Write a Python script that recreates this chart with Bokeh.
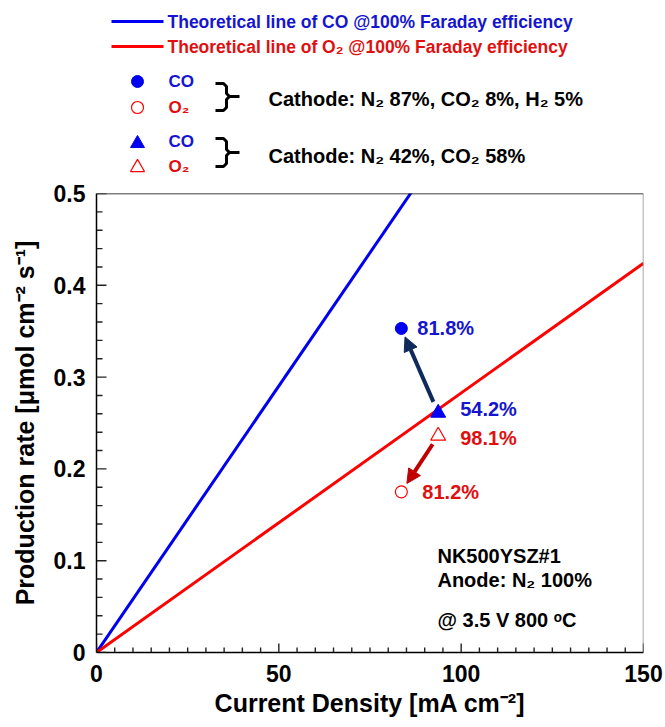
from bokeh.plotting import figure
from bokeh.layouts import column
from bokeh.models import Range1d, FixedTicker, Arrow, NormalHead, Label, Span, ColumnDataSource
from bokeh.core.properties import value
from bokeh.embed import file_html
from bokeh.resources import INLINE

FONT = "Liberation Sans"
BLUE_LINE = "#0000F0"
RED_LINE = "#FF0000"
BLUE_TXT = "#1515D0"
RED_TXT = "#E01010"
NAVY = "#102A5C"
DARKRED = "#C00000"

# ---------------- data ----------------
theo_x = [0, 150]                 # current density, mA cm-2
co_theo = [0, 0.871]              # theoretical CO @100% FE
o2_theo = [0, 0.424]              # theoretical O2 @100% FE

mix1_x = [83.6]                   # cathode N2 87%, CO2 8%, H2 5%
mix1_co = [0.353]
mix1_o2 = [0.175]
mix1_co_fe = ["81.8%"]
mix1_o2_fe = ["81.2%"]

mix2_x = [93.7]                   # cathode N2 42%, CO2 58%
mix2_co = [0.261]
mix2_o2 = [0.236]
mix2_co_fe = ["54.2%"]
mix2_o2_fe = ["98.1%"]

x_ticks = [0, 50, 100, 150]
y_ticks = [0, 0.1, 0.2, 0.3, 0.4, 0.5]
x_minor = [v for v in range(0, 151, 5) if v not in x_ticks]
y_minor = [i / 50 for i in range(0, 26) if i % 5 != 0]

X0, X1, Y0, Y1 = 0, 150, 0, 0.5
W, TOPH, MAINH = 665, 180, 547
L, R, T, B = 96, 22, 13, 75
FRAME_W = W - L - R
FRAME_H = MAINH - T - B

# ---------------- legend panel ----------------
top = figure(width=W, height=TOPH, x_range=Range1d(L, W - R), y_range=Range1d(TOPH, 0),
             output_backend="svg", toolbar_location=None,
             min_border_left=L, min_border_right=R, min_border_top=0, min_border_bottom=0)
top.axis.visible = False
top.grid.visible = False
top.outline_line_color = None

def ttext(fig, x, y, s, color, size):
    fig.text(x=[x], y=[y], text=[s], text_baseline="middle", text_align="left",
             text_font=value(FONT), text_font_style="bold", text_font_size=size,
             text_color=color)

top.line([111, 163], [21, 21], line_color=BLUE_LINE, line_width=3)
ttext(top, 167, 21, "Theoretical line of CO @100% Faraday efficiency", BLUE_TXT, "17.5px")
top.line([111, 163], [46, 46], line_color=RED_LINE, line_width=3)
ttext(top, 167, 46, "Theoretical line of O\u2082 @100% Faraday efficiency", RED_TXT, "17.5px")

top.scatter([137], [81], marker="circle", size=12, fill_color=BLUE_LINE, line_color=BLUE_LINE)
ttext(top, 168, 81, "CO", BLUE_TXT, "17px")
top.scatter([137], [107], marker="circle", size=12, fill_color=None, line_color=RED_LINE, line_width=1.2)
ttext(top, 168, 107, "O\u2082", RED_TXT, "17px")
top.scatter([137], [143], marker="triangle", size=14, fill_color=BLUE_LINE, line_color=BLUE_LINE)
ttext(top, 168, 141, "CO", BLUE_TXT, "17px")
top.scatter([137], [167], marker="triangle", size=14, fill_color=None, line_color=RED_LINE, line_width=1.2)
ttext(top, 168, 166, "O\u2082", RED_TXT, "17px")

for (ya, ym, yb) in [(83, 96, 110), (138, 152, 166)]:
    top.line([215, 223, 226, 226, 229, 239], [ya, ya, ya + 3, ym - 3, ym, ym],
             line_color="black", line_width=3)
    top.line([229, 226, 226, 223, 215], [ym, ym + 3, yb - 3, yb, yb],
             line_color="black", line_width=3)

ttext(top, 268, 98, "Cathode: N\u2082 87%, CO\u2082 8%, H\u2082 5%", "black", "20px")
ttext(top, 268, 155, "Cathode: N\u2082 42%, CO\u2082 58%", "black", "20px")

# ---------------- main plot ----------------
p = figure(width=W, height=MAINH, x_range=Range1d(X0, X1), y_range=Range1d(Y0, Y1),
           output_backend="svg", toolbar_location=None,
           min_border_left=L, min_border_right=R, min_border_top=T, min_border_bottom=B)
p.grid.visible = False
p.outline_line_color = None

p.xaxis.ticker = FixedTicker(ticks=x_ticks)
p.yaxis.ticker = FixedTicker(ticks=y_ticks)
p.yaxis.major_label_overrides = {0: "0"}

for ax in (p.xaxis[0], p.yaxis[0]):
    ax.major_tick_in = 0
    ax.major_tick_out = 0
    ax.minor_tick_in = 0
    ax.minor_tick_out = 0
    ax.axis_line_color = "black"
    ax.axis_line_width = 1.5
    ax.major_label_text_font = FONT
    ax.major_label_text_font_style = "bold"
    ax.major_label_text_font_size = "23px"
    ax.major_label_text_color = "black"
    ax.axis_label_text_font = FONT
    ax.axis_label_text_font_style = "bold"
    ax.axis_label_text_font_size = "25px"
    ax.axis_label_text_color = "black"

p.xaxis.axis_label = "Current Density [mA cm\u207B\u00B2]"
p.yaxis.axis_label = "Production rate [\u03BCmol cm\u207B\u00B2 s\u207B\u00B9]"
p.xaxis.major_label_standoff = 12
p.xaxis.axis_label_standoff = 4
p.yaxis.major_label_standoff = 11
p.yaxis.axis_label_standoff = 12

# frame top (black) and right (grey) edges
p.add_layout(Span(location=Y1, dimension="width", line_color="black", line_width=1.5))
p.add_layout(Span(location=X1, dimension="height", line_color="#8a8a8a", line_width=1.5))

# inward tick marks as head-less arrow annotations (pixel lengths -> data units)
px_x = (X1 - X0) / FRAME_W
px_y = (Y1 - Y0) / FRAME_H

def ticks(x0, y0, x1, y1):
    src = ColumnDataSource(dict(x0=x0, y0=y0, x1=x1, y1=y1))
    p.add_layout(Arrow(x_start="x0", y_start="y0", x_end="x1", y_end="y1", source=src,
                       start=None, end=None, line_color="#222222", line_width=1.4))

ticks(x_ticks, [Y0] * len(x_ticks), x_ticks, [Y0 + 9 * px_y] * len(x_ticks))
ticks(x_minor, [Y0] * len(x_minor), x_minor, [Y0 + 5 * px_y] * len(x_minor))
ticks([X0] * len(y_ticks), y_ticks, [X0 + 10 * px_x] * len(y_ticks), y_ticks)
ticks([X0] * len(y_minor), y_minor, [X0 + 6 * px_x] * len(y_minor), y_minor)

p.line(theo_x, co_theo, line_color=BLUE_LINE, line_width=3)
p.line(theo_x, o2_theo, line_color=RED_LINE, line_width=3)

# arrows derived from data points
def arrow(x0, y0, x1, y1, color, t0, t1):
    xs = x0 + t0 * (x1 - x0); ys = y0 + t0 * (y1 - y0)
    xe = x0 + t1 * (x1 - x0); ye = y0 + t1 * (y1 - y0)
    p.add_layout(Arrow(x_start=xs, y_start=ys, x_end=xe, y_end=ye, line_color=color, line_width=4,
                       end=NormalHead(size=14, fill_color=color, line_color=color)))

arrow(mix2_x[0], mix2_co[0], mix1_x[0], mix1_co[0], NAVY, 0.13, 0.9)
arrow(mix2_x[0], mix2_o2[0], mix1_x[0], mix1_o2[0], DARKRED, 0.15, 0.85)

p.scatter(mix1_x, mix1_co, marker="circle", size=12, fill_color=BLUE_LINE, line_color=BLUE_LINE)
p.scatter(mix1_x, mix1_o2, marker="circle", size=12, fill_color="white", line_color=RED_LINE, line_width=1.2)
p.scatter(mix2_x, mix2_co, marker="triangle", size=15, fill_color=BLUE_LINE, line_color=BLUE_LINE)
p.scatter(mix2_x, mix2_o2, marker="triangle", size=15, fill_color="white", line_color=RED_LINE, line_width=1.2)

def ptext(xs, ys, labels, color, dx, dy):
    p.text(x=xs, y=ys, text=labels, x_offset=dx, y_offset=dy, text_baseline="middle",
           text_font=value(FONT), text_font_style="bold", text_font_size="20px", text_color=color)

ptext(mix1_x, mix1_co, mix1_co_fe, BLUE_TXT, 16, 0)
ptext(mix2_x, mix2_co, mix2_co_fe, BLUE_TXT, 22, -4)
ptext(mix2_x, mix2_o2, mix2_o2_fe, RED_TXT, 22, 2)
ptext(mix1_x, mix1_o2, mix1_o2_fe, RED_TXT, 21, 0)

for yv, s in [(0.105, "NK500YSZ#1"), (0.0785, "Anode: N\u2082 100%"), (0.035, "@ 3.5 V 800 \u1D52C")]:
    p.add_layout(Label(x=93.5, y=yv, text=s, text_baseline="middle", text_font=FONT,
                       text_font_style="bold", text_font_size="20px", text_color="black"))

layout = column(top, p, spacing=0)
open("out.html", "w").write(file_html(layout, INLINE))
